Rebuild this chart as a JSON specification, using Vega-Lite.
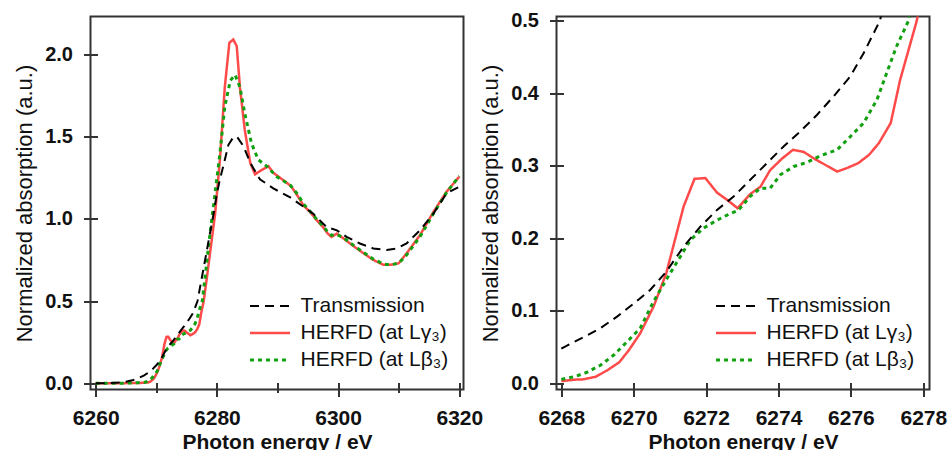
{
  "$schema": "https://vega.github.io/schema/vega-lite/v6.json",
  "autosize": {"type": "none"},
  "padding": {"left": 90.5, "top": 16.5, "right": 857.5, "bottom": 433.5},
  "background": "white",
  "config": {
    "font": "Liberation Sans",
    "view": {"stroke": "#333", "strokeWidth": 2},
    "axis": {"labelFont": "Liberation Sans", "labelFontSize": 20, "labelFontWeight": "bold", "labelColor": "#111", "tickColor": "#333", "tickWidth": 2, "domain": false, "grid": false, "titleColor": "#111", "titleFont": "Liberation Sans", "labelPadding": 11, "labelFlush": false, "labelOverlap": false},
    "axisX": {"labelFontSize": 21},
    "legend": {"orient": "none", "legendX": 158, "legendY": 276, "labelFont": "Liberation Sans", "labelFontSize": 21, "labelColor": "#111", "symbolType": "stroke", "symbolSize": 1600, "symbolStrokeWidth": 3.5, "labelOffset": 9, "rowPadding": 0, "clipHeight": 27, "padding": 0, "labelLimit": 400}
  },
  "datasets": {
    "d": [
      {"x": 6260, "y": 0, "s": "HERFD (at Lγ₃)"},
      {"x": 6263, "y": 0, "s": "HERFD (at Lγ₃)"},
      {"x": 6265, "y": 0.001, "s": "HERFD (at Lγ₃)"},
      {"x": 6267, "y": 0.002, "s": "HERFD (at Lγ₃)"},
      {"x": 6268, "y": 0.003, "s": "HERFD (at Lγ₃)"},
      {"x": 6268.35, "y": 0.005, "s": "HERFD (at Lγ₃)"},
      {"x": 6268.6, "y": 0.0055, "s": "HERFD (at Lγ₃)"},
      {"x": 6268.95, "y": 0.009, "s": "HERFD (at Lγ₃)"},
      {"x": 6269.27, "y": 0.018, "s": "HERFD (at Lγ₃)"},
      {"x": 6269.6, "y": 0.029, "s": "HERFD (at Lγ₃)"},
      {"x": 6269.87, "y": 0.046, "s": "HERFD (at Lγ₃)"},
      {"x": 6270.18, "y": 0.069, "s": "HERFD (at Lγ₃)"},
      {"x": 6270.55, "y": 0.106, "s": "HERFD (at Lγ₃)"},
      {"x": 6270.9, "y": 0.152, "s": "HERFD (at Lγ₃)"},
      {"x": 6271.38, "y": 0.244, "s": "HERFD (at Lγ₃)"},
      {"x": 6271.68, "y": 0.282, "s": "HERFD (at Lγ₃)"},
      {"x": 6271.98, "y": 0.283, "s": "HERFD (at Lγ₃)"},
      {"x": 6272.3, "y": 0.263, "s": "HERFD (at Lγ₃)"},
      {"x": 6272.58, "y": 0.253, "s": "HERFD (at Lγ₃)"},
      {"x": 6272.87, "y": 0.2415, "s": "HERFD (at Lγ₃)"},
      {"x": 6273.22, "y": 0.261, "s": "HERFD (at Lγ₃)"},
      {"x": 6273.5, "y": 0.271, "s": "HERFD (at Lγ₃)"},
      {"x": 6273.77, "y": 0.294, "s": "HERFD (at Lγ₃)"},
      {"x": 6274.1, "y": 0.31, "s": "HERFD (at Lγ₃)"},
      {"x": 6274.4, "y": 0.322, "s": "HERFD (at Lγ₃)"},
      {"x": 6274.7, "y": 0.319, "s": "HERFD (at Lγ₃)"},
      {"x": 6274.98, "y": 0.31, "s": "HERFD (at Lγ₃)"},
      {"x": 6275.3, "y": 0.301, "s": "HERFD (at Lγ₃)"},
      {"x": 6275.62, "y": 0.292, "s": "HERFD (at Lγ₃)"},
      {"x": 6275.9, "y": 0.297, "s": "HERFD (at Lγ₃)"},
      {"x": 6276.2, "y": 0.3035, "s": "HERFD (at Lγ₃)"},
      {"x": 6276.5, "y": 0.315, "s": "HERFD (at Lγ₃)"},
      {"x": 6276.77, "y": 0.331, "s": "HERFD (at Lγ₃)"},
      {"x": 6277.1, "y": 0.359, "s": "HERFD (at Lγ₃)"},
      {"x": 6277.36, "y": 0.4185, "s": "HERFD (at Lγ₃)"},
      {"x": 6277.82, "y": 0.5, "s": "HERFD (at Lγ₃)"},
      {"x": 6278.3, "y": 0.63, "s": "HERFD (at Lγ₃)"},
      {"x": 6278.86, "y": 0.79, "s": "HERFD (at Lγ₃)"},
      {"x": 6279.7, "y": 1.03, "s": "HERFD (at Lγ₃)"},
      {"x": 6280.5, "y": 1.36, "s": "HERFD (at Lγ₃)"},
      {"x": 6281.3, "y": 1.8, "s": "HERFD (at Lγ₃)"},
      {"x": 6282.05, "y": 2.07, "s": "HERFD (at Lγ₃)"},
      {"x": 6282.7, "y": 2.09, "s": "HERFD (at Lγ₃)"},
      {"x": 6283.27, "y": 2.05, "s": "HERFD (at Lγ₃)"},
      {"x": 6283.8, "y": 1.8, "s": "HERFD (at Lγ₃)"},
      {"x": 6284.6, "y": 1.54, "s": "HERFD (at Lγ₃)"},
      {"x": 6285.5, "y": 1.34, "s": "HERFD (at Lγ₃)"},
      {"x": 6286.3, "y": 1.27, "s": "HERFD (at Lγ₃)"},
      {"x": 6287.1, "y": 1.29, "s": "HERFD (at Lγ₃)"},
      {"x": 6288.5, "y": 1.32, "s": "HERFD (at Lγ₃)"},
      {"x": 6289.3, "y": 1.28, "s": "HERFD (at Lγ₃)"},
      {"x": 6290.4, "y": 1.25, "s": "HERFD (at Lγ₃)"},
      {"x": 6291.5, "y": 1.22, "s": "HERFD (at Lγ₃)"},
      {"x": 6292.3, "y": 1.195, "s": "HERFD (at Lγ₃)"},
      {"x": 6293.3, "y": 1.14, "s": "HERFD (at Lγ₃)"},
      {"x": 6294.3, "y": 1.08, "s": "HERFD (at Lγ₃)"},
      {"x": 6295.4, "y": 1.04, "s": "HERFD (at Lγ₃)"},
      {"x": 6296.5, "y": 0.99, "s": "HERFD (at Lγ₃)"},
      {"x": 6297.5, "y": 0.95, "s": "HERFD (at Lγ₃)"},
      {"x": 6298.3, "y": 0.91, "s": "HERFD (at Lγ₃)"},
      {"x": 6298.9, "y": 0.89, "s": "HERFD (at Lγ₃)"},
      {"x": 6299.8, "y": 0.91, "s": "HERFD (at Lγ₃)"},
      {"x": 6300.9, "y": 0.88, "s": "HERFD (at Lγ₃)"},
      {"x": 6302.5, "y": 0.835, "s": "HERFD (at Lγ₃)"},
      {"x": 6304.2, "y": 0.79, "s": "HERFD (at Lγ₃)"},
      {"x": 6305.8, "y": 0.75, "s": "HERFD (at Lγ₃)"},
      {"x": 6307.5, "y": 0.72, "s": "HERFD (at Lγ₃)"},
      {"x": 6308.6, "y": 0.72, "s": "HERFD (at Lγ₃)"},
      {"x": 6310, "y": 0.73, "s": "HERFD (at Lγ₃)"},
      {"x": 6311.3, "y": 0.79, "s": "HERFD (at Lγ₃)"},
      {"x": 6313.5, "y": 0.9, "s": "HERFD (at Lγ₃)"},
      {"x": 6315.7, "y": 1.04, "s": "HERFD (at Lγ₃)"},
      {"x": 6317.9, "y": 1.165, "s": "HERFD (at Lγ₃)"},
      {"x": 6320, "y": 1.256, "s": "HERFD (at Lγ₃)"},

      {"x": 6260, "y": 0, "s": "HERFD (at Lβ₃)"},
      {"x": 6264, "y": 0, "s": "HERFD (at Lβ₃)"},
      {"x": 6266, "y": 0.002, "s": "HERFD (at Lβ₃)"},
      {"x": 6267, "y": 0.004, "s": "HERFD (at Lβ₃)"},
      {"x": 6268, "y": 0.0055, "s": "HERFD (at Lβ₃)"},
      {"x": 6268.35, "y": 0.009, "s": "HERFD (at Lβ₃)"},
      {"x": 6268.7, "y": 0.015, "s": "HERFD (at Lβ₃)"},
      {"x": 6269.08, "y": 0.025, "s": "HERFD (at Lβ₃)"},
      {"x": 6269.45, "y": 0.039, "s": "HERFD (at Lβ₃)"},
      {"x": 6269.82, "y": 0.0575, "s": "HERFD (at Lβ₃)"},
      {"x": 6270.18, "y": 0.076, "s": "HERFD (at Lβ₃)"},
      {"x": 6270.55, "y": 0.113, "s": "HERFD (at Lβ₃)"},
      {"x": 6270.9, "y": 0.143, "s": "HERFD (at Lβ₃)"},
      {"x": 6271.29, "y": 0.175, "s": "HERFD (at Lβ₃)"},
      {"x": 6271.57, "y": 0.198, "s": "HERFD (at Lβ₃)"},
      {"x": 6271.93, "y": 0.214, "s": "HERFD (at Lβ₃)"},
      {"x": 6272.3, "y": 0.225, "s": "HERFD (at Lβ₃)"},
      {"x": 6272.58, "y": 0.232, "s": "HERFD (at Lβ₃)"},
      {"x": 6272.9, "y": 0.239, "s": "HERFD (at Lβ₃)"},
      {"x": 6273.22, "y": 0.258, "s": "HERFD (at Lβ₃)"},
      {"x": 6273.5, "y": 0.269, "s": "HERFD (at Lβ₃)"},
      {"x": 6273.77, "y": 0.269, "s": "HERFD (at Lβ₃)"},
      {"x": 6274.05, "y": 0.2875, "s": "HERFD (at Lβ₃)"},
      {"x": 6274.42, "y": 0.299, "s": "HERFD (at Lβ₃)"},
      {"x": 6274.78, "y": 0.3045, "s": "HERFD (at Lβ₃)"},
      {"x": 6275.15, "y": 0.3137, "s": "HERFD (at Lβ₃)"},
      {"x": 6275.62, "y": 0.322, "s": "HERFD (at Lβ₃)"},
      {"x": 6275.98, "y": 0.34, "s": "HERFD (at Lβ₃)"},
      {"x": 6276.35, "y": 0.359, "s": "HERFD (at Lβ₃)"},
      {"x": 6276.72, "y": 0.391, "s": "HERFD (at Lβ₃)"},
      {"x": 6276.99, "y": 0.428, "s": "HERFD (at Lβ₃)"},
      {"x": 6277.26, "y": 0.4645, "s": "HERFD (at Lβ₃)"},
      {"x": 6277.59, "y": 0.5, "s": "HERFD (at Lβ₃)"},
      {"x": 6278.0, "y": 0.63, "s": "HERFD (at Lβ₃)"},
      {"x": 6278.86, "y": 0.91, "s": "HERFD (at Lβ₃)"},
      {"x": 6279.7, "y": 1.155, "s": "HERFD (at Lβ₃)"},
      {"x": 6280.5, "y": 1.4, "s": "HERFD (at Lβ₃)"},
      {"x": 6281.3, "y": 1.68, "s": "HERFD (at Lβ₃)"},
      {"x": 6282.2, "y": 1.84, "s": "HERFD (at Lβ₃)"},
      {"x": 6283.0, "y": 1.875, "s": "HERFD (at Lβ₃)"},
      {"x": 6283.8, "y": 1.8, "s": "HERFD (at Lβ₃)"},
      {"x": 6284.6, "y": 1.64, "s": "HERFD (at Lβ₃)"},
      {"x": 6285.7, "y": 1.46, "s": "HERFD (at Lβ₃)"},
      {"x": 6286.8, "y": 1.36, "s": "HERFD (at Lβ₃)"},
      {"x": 6288.2, "y": 1.32, "s": "HERFD (at Lβ₃)"},
      {"x": 6289.9, "y": 1.255, "s": "HERFD (at Lβ₃)"},
      {"x": 6292.1, "y": 1.205, "s": "HERFD (at Lβ₃)"},
      {"x": 6293.3, "y": 1.15, "s": "HERFD (at Lβ₃)"},
      {"x": 6294.3, "y": 1.09, "s": "HERFD (at Lβ₃)"},
      {"x": 6295.4, "y": 1.045, "s": "HERFD (at Lβ₃)"},
      {"x": 6296.5, "y": 0.995, "s": "HERFD (at Lβ₃)"},
      {"x": 6297.5, "y": 0.955, "s": "HERFD (at Lβ₃)"},
      {"x": 6298.3, "y": 0.92, "s": "HERFD (at Lβ₃)"},
      {"x": 6298.9, "y": 0.9, "s": "HERFD (at Lβ₃)"},
      {"x": 6299.8, "y": 0.905, "s": "HERFD (at Lβ₃)"},
      {"x": 6300.9, "y": 0.885, "s": "HERFD (at Lβ₃)"},
      {"x": 6302.5, "y": 0.84, "s": "HERFD (at Lβ₃)"},
      {"x": 6304.2, "y": 0.795, "s": "HERFD (at Lβ₃)"},
      {"x": 6305.8, "y": 0.755, "s": "HERFD (at Lβ₃)"},
      {"x": 6307.5, "y": 0.725, "s": "HERFD (at Lβ₃)"},
      {"x": 6308.6, "y": 0.72, "s": "HERFD (at Lβ₃)"},
      {"x": 6310, "y": 0.73, "s": "HERFD (at Lβ₃)"},
      {"x": 6311.3, "y": 0.78, "s": "HERFD (at Lβ₃)"},
      {"x": 6313.5, "y": 0.89, "s": "HERFD (at Lβ₃)"},
      {"x": 6315.7, "y": 1.03, "s": "HERFD (at Lβ₃)"},
      {"x": 6317.9, "y": 1.16, "s": "HERFD (at Lβ₃)"},
      {"x": 6320, "y": 1.26, "s": "HERFD (at Lβ₃)"},

      {"x": 6260, "y": 0, "s": "Transmission"},
      {"x": 6262, "y": 0, "s": "Transmission"},
      {"x": 6264, "y": 0.005, "s": "Transmission"},
      {"x": 6265, "y": 0.01, "s": "Transmission"},
      {"x": 6266.2, "y": 0.02, "s": "Transmission"},
      {"x": 6267.2, "y": 0.035, "s": "Transmission"},
      {"x": 6268, "y": 0.048, "s": "Transmission"},
      {"x": 6268.63, "y": 0.064, "s": "Transmission"},
      {"x": 6269.08, "y": 0.076, "s": "Transmission"},
      {"x": 6269.54, "y": 0.092, "s": "Transmission"},
      {"x": 6270.0, "y": 0.11, "s": "Transmission"},
      {"x": 6270.46, "y": 0.129, "s": "Transmission"},
      {"x": 6270.9, "y": 0.154, "s": "Transmission"},
      {"x": 6271.38, "y": 0.1886, "s": "Transmission"},
      {"x": 6271.84, "y": 0.216, "s": "Transmission"},
      {"x": 6272.3, "y": 0.239, "s": "Transmission"},
      {"x": 6272.76, "y": 0.2576, "s": "Transmission"},
      {"x": 6273.22, "y": 0.2806, "s": "Transmission"},
      {"x": 6273.68, "y": 0.3036, "s": "Transmission"},
      {"x": 6274.14, "y": 0.3266, "s": "Transmission"},
      {"x": 6274.6, "y": 0.3473, "s": "Transmission"},
      {"x": 6275.06, "y": 0.37, "s": "Transmission"},
      {"x": 6275.52, "y": 0.3956, "s": "Transmission"},
      {"x": 6275.98, "y": 0.423, "s": "Transmission"},
      {"x": 6276.35, "y": 0.455, "s": "Transmission"},
      {"x": 6276.8, "y": 0.5, "s": "Transmission"},
      {"x": 6277.4, "y": 0.62, "s": "Transmission"},
      {"x": 6278.0, "y": 0.74, "s": "Transmission"},
      {"x": 6278.7, "y": 0.88, "s": "Transmission"},
      {"x": 6279.4, "y": 1.02, "s": "Transmission"},
      {"x": 6280.0, "y": 1.155, "s": "Transmission"},
      {"x": 6280.5, "y": 1.24, "s": "Transmission"},
      {"x": 6281.05, "y": 1.32, "s": "Transmission"},
      {"x": 6281.9, "y": 1.45, "s": "Transmission"},
      {"x": 6282.6, "y": 1.49, "s": "Transmission"},
      {"x": 6283.3, "y": 1.5, "s": "Transmission"},
      {"x": 6284.4, "y": 1.44, "s": "Transmission"},
      {"x": 6285.5, "y": 1.34, "s": "Transmission"},
      {"x": 6287.1, "y": 1.24, "s": "Transmission"},
      {"x": 6289.3, "y": 1.185, "s": "Transmission"},
      {"x": 6292.1, "y": 1.13, "s": "Transmission"},
      {"x": 6294.8, "y": 1.06, "s": "Transmission"},
      {"x": 6295.9, "y": 1.03, "s": "Transmission"},
      {"x": 6298.1, "y": 0.95, "s": "Transmission"},
      {"x": 6299.8, "y": 0.93, "s": "Transmission"},
      {"x": 6301.4, "y": 0.89, "s": "Transmission"},
      {"x": 6303.6, "y": 0.85, "s": "Transmission"},
      {"x": 6305.8, "y": 0.82, "s": "Transmission"},
      {"x": 6308, "y": 0.81, "s": "Transmission"},
      {"x": 6309.7, "y": 0.82, "s": "Transmission"},
      {"x": 6311.3, "y": 0.85, "s": "Transmission"},
      {"x": 6313.5, "y": 0.93, "s": "Transmission"},
      {"x": 6315.7, "y": 1.03, "s": "Transmission"},
      {"x": 6317.9, "y": 1.155, "s": "Transmission"},
      {"x": 6320, "y": 1.195, "s": "Transmission"}
    ]
  },
  "spacing": 93,
  "bounds": "flush",
  "resolve": {
    "scale": {"x": "independent", "y": "independent", "color": "independent", "strokeDash": "independent", "strokeWidth": "independent"},
    "legend": {"color": "independent", "strokeDash": "independent"}
  },
  "hconcat": [
    {
      "width": 373,
      "height": 373,
      "data": {"name": "d"},
      "mark": {"type": "line", "clip": true},
      "encoding": {
        "x": {"field": "x", "type": "quantitative", "scale": {"domain": [6259.14, 6320.69], "nice": false, "zero": false},
              "axis": {"values": [6260, 6270, 6280, 6290, 6300, 6310, 6320], "format": "d", "labelExpr": "datum.value % 20 == 0 ? datum.label : ''", "tickSize": {"condition": {"test": "datum.value % 20 != 0", "value": 10}, "value": 14}, "offset": -7, "title": "Photon energy / eV", "titleFontSize": 21, "titleFontWeight": "bold", "titlePadding": 3}},
        "y": {"field": "y", "type": "quantitative", "scale": {"domain": [-0.0377, 2.2298], "nice": false, "zero": false},
              "axis": {"values": [0, 0.5, 1, 1.5, 2], "format": ".1f", "tickSize": 14, "offset": -7, "title": "Normalized absorption (a.u.)", "titleFontSize": 22, "titleFontWeight": "normal", "titlePadding": 8}},
        "color": {"field": "s", "type": "nominal", "scale": {"domain": ["Transmission", "HERFD (at Lγ₃)", "HERFD (at Lβ₃)"], "range": ["#000000", "#ff4a4a", "#10a010"]}, "legend": {"title": null}},
        "strokeDash": {"field": "s", "type": "nominal", "scale": {"domain": ["Transmission", "HERFD (at Lγ₃)", "HERFD (at Lβ₃)"], "range": [[9, 6], [1, 0], [4, 4]]}, "legend": {"title": null}},
        "strokeWidth": {"field": "s", "type": "nominal", "scale": {"domain": ["Transmission", "HERFD (at Lγ₃)", "HERFD (at Lβ₃)"], "range": [2, 3, 3.5]}, "legend": null}
      }
    },
    {
      "width": 373,
      "height": 373,
      "data": {"name": "d"},
      "transform": [{"filter": "datum.x >= 6268 && datum.x <= 6280"}],
      "mark": {"type": "line", "clip": true},
      "encoding": {
        "x": {"field": "x", "type": "quantitative", "scale": {"domain": [6267.867, 6278.171], "nice": false, "zero": false},
              "axis": {"values": [6268, 6270, 6272, 6274, 6276, 6278], "format": "d", "tickSize": 14, "offset": -7, "title": "Photon energy / eV", "titleFontSize": 21, "titleFontWeight": "bold", "titlePadding": 3}},
        "y": {"field": "y", "type": "quantitative", "scale": {"domain": [-0.0085, 0.5058], "nice": false, "zero": false},
              "axis": {"values": [0, 0.1, 0.2, 0.3, 0.4, 0.5], "format": ".1f", "tickSize": 14, "offset": -7, "title": "Normalized absorption (a.u.)", "titleFontSize": 22, "titleFontWeight": "normal", "titlePadding": 8}},
        "color": {"field": "s", "type": "nominal", "scale": {"domain": ["Transmission", "HERFD (at Lγ₃)", "HERFD (at Lβ₃)"], "range": ["#000000", "#ff4a4a", "#10a010"]}, "legend": {"title": null}},
        "strokeDash": {"field": "s", "type": "nominal", "scale": {"domain": ["Transmission", "HERFD (at Lγ₃)", "HERFD (at Lβ₃)"], "range": [[9, 6], [1, 0], [4, 4]]}, "legend": {"title": null}},
        "strokeWidth": {"field": "s", "type": "nominal", "scale": {"domain": ["Transmission", "HERFD (at Lγ₃)", "HERFD (at Lβ₃)"], "range": [2, 3, 3.5]}, "legend": null}
      }
    }
  ]
}
